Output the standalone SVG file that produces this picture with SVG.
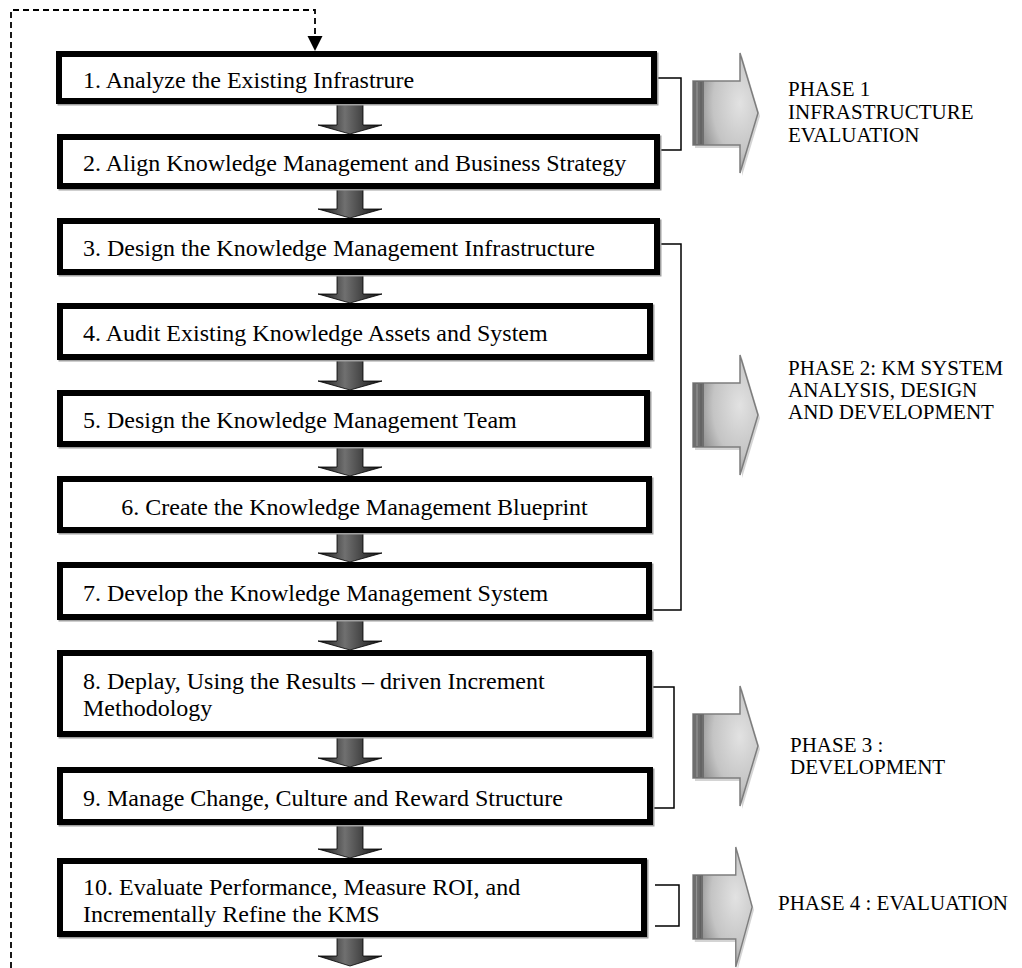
<svg xmlns="http://www.w3.org/2000/svg" width="1022" height="968" viewBox="0 0 1022 968">
<style>
  .box{fill:#fff;stroke:#000;stroke-width:6}
  .shadow{fill:none;stroke:#a0a0a0;stroke-width:6}
  .t{font-family:"Liberation Serif","Times New Roman",serif;font-size:24px;fill:#000}
  .p{font-family:"Liberation Serif","Times New Roman",serif;font-size:21px;fill:#000}
  .br{fill:none;stroke:#000;stroke-width:1.5}
  .dash{fill:none;stroke:#000;stroke-width:1.8;stroke-dasharray:6 4}
  .down{fill:url(#gDown);stroke:#000;stroke-width:0.8}
</style>
<defs>
  <linearGradient id="gDown" x1="0" y1="0" x2="1" y2="0">
    <stop offset="0" stop-color="#111"/>
    <stop offset="0.42" stop-color="#707070"/>
    <stop offset="1" stop-color="#111"/>
  </linearGradient>
  <radialGradient id="gPhase" cx="0.72" cy="0.42" r="0.75">
    <stop offset="0" stop-color="#e2e2e2"/>
    <stop offset="0.55" stop-color="#c4c4c4"/>
    <stop offset="1" stop-color="#7a7a7a"/>
  </radialGradient>
  <g id="phaseArrow">
    <path d="M2,-29 H49 V-57 L67,3 L49,63 V35 H2 Z" fill="#c9c9c9" opacity="0.8"/>
    <path d="M0,-32 H47 V-60 L65,0 L47,60 V32 H0 Z" fill="url(#gPhase)" stroke="#7d7d7d" stroke-width="1.5"/>
    <rect x="0" y="-32" width="11" height="64" fill="#6e6e6e"/>
    <line x1="4" y1="-31" x2="4" y2="31" stroke="#9a9a9a" stroke-width="1"/>
    <line x1="8" y1="-31" x2="8" y2="31" stroke="#5a5a5a" stroke-width="1"/>
  </g>
</defs>

<g id="connectors">
  <path class="dash" d="M11,968 V10 H315 V36"/>
  <path d="M307.5,36 L322.5,36 L315,51 Z" fill="#000"/>
  <polygon class="down" points="337,104 363,104 363,125 382,125 350,134 318,125 337,125"/>
  <polygon class="down" points="337,189 363,189 363,209 382,209 350,218 318,209 337,209"/>
  <polygon class="down" points="337,275 363,275 363,294 382,294 350,303 318,294 337,294"/>
  <polygon class="down" points="337,360 363,360 363,381 382,381 350,390 318,381 337,381"/>
  <polygon class="down" points="337,447 363,447 363,467 382,467 350,476 318,467 337,467"/>
  <polygon class="down" points="337,533 363,533 363,553 382,553 350,562 318,553 337,553"/>
  <polygon class="down" points="337,620 363,620 363,641 382,641 350,650 318,641 337,641"/>
  <polygon class="down" points="337,737 363,737 363,758 382,758 350,767 318,758 337,758"/>
  <polygon class="down" points="337,825 363,825 363,849 382,849 350,858 318,849 337,849"/>
  <polygon class="down" points="337,937 363,937 363,956 382,956 350,966 318,956 337,956"/>
  <path class="br" d="M657,78 H681 V150 H660"/>
  <path class="br" d="M660,244 H681 V610 H652"/>
  <path class="br" d="M652,687 H674 V808 H653"/>
  <path class="br" d="M655,885 H679 V926 H655"/>
</g>

<g id="node1"><rect class="shadow" x="60.5" y="55.5" width="595" height="47"/><rect class="box" x="59" y="54" width="595" height="47"/><text class="t" x="83" y="88">1. Analyze the Existing Infrastrure</text></g>
<g id="node2"><rect class="shadow" x="61.5" y="138.5" width="597" height="49"/><rect class="box" x="60" y="137" width="597" height="49"/><text class="t" x="83" y="171">2. Align Knowledge Management and Business Strategy</text></g>
<g id="node3"><rect class="shadow" x="61.5" y="222.5" width="597" height="51"/><rect class="box" x="60" y="221" width="597" height="51"/><text class="t" x="83" y="256">3. Design the Knowledge Management Infrastructure</text></g>
<g id="node4"><rect class="shadow" x="61.5" y="307.5" width="590" height="51"/><rect class="box" x="60" y="306" width="590" height="51"/><text class="t" x="83" y="341">4. Audit Existing Knowledge Assets and System</text></g>
<g id="node5"><rect class="shadow" x="61.5" y="394.5" width="587" height="51"/><rect class="box" x="60" y="393" width="587" height="51"/><text class="t" x="83" y="428">5. Design the Knowledge Management Team</text></g>
<g id="node6"><rect class="shadow" x="61.5" y="480.5" width="589" height="51"/><rect class="box" x="60" y="479" width="589" height="51"/><text class="t" x="354.5" y="515" text-anchor="middle">6. Create the Knowledge Management Blueprint</text></g>
<g id="node7"><rect class="shadow" x="61.5" y="566.5" width="589" height="52"/><rect class="box" x="60" y="565" width="589" height="52"/><text class="t" x="83" y="601">7. Develop the Knowledge Management System</text></g>
<g id="node8"><rect class="shadow" x="61.5" y="654.5" width="589" height="81"/><rect class="box" x="60" y="653" width="589" height="81"/><text class="t" x="83" y="689">8. Deplay, Using the Results – driven Increment</text><text class="t" x="83" y="716">Methodology</text></g>
<g id="node9"><rect class="shadow" x="61.5" y="771.5" width="590" height="52"/><rect class="box" x="60" y="770" width="590" height="52"/><text class="t" x="83" y="806">9. Manage Change, Culture and Reward Structure</text></g>
<g id="node10"><rect class="shadow" x="61.5" y="862.5" width="584" height="73"/><rect class="box" x="60" y="861" width="584" height="73"/><text class="t" x="83" y="895">10. Evaluate Performance, Measure ROI, and</text><text class="t" x="83" y="922">Incrementally Refine the KMS</text></g>

<g id="phase1"><use href="#phaseArrow" transform="translate(693,113)"/><text class="p" x="788" y="96">PHASE 1</text><text class="p" x="788" y="119">INFRASTRUCTURE</text><text class="p" x="788" y="142">EVALUATION</text></g>
<g id="phase2"><use href="#phaseArrow" transform="translate(693,415)"/><text class="p" x="788" y="375">PHASE 2: KM SYSTEM</text><text class="p" x="788" y="397">ANALYSIS, DESIGN</text><text class="p" x="788" y="419">AND DEVELOPMENT</text></g>
<g id="phase3"><use href="#phaseArrow" transform="translate(693,746)"/><text class="p" x="790" y="752">PHASE 3 :</text><text class="p" x="790" y="774">DEVELOPMENT</text></g>
<g id="phase4"><use href="#phaseArrow" transform="translate(693,907) scale(0.91,1)"/><text class="p" x="778" y="910">PHASE 4 : EVALUATION</text></g>
</svg>
